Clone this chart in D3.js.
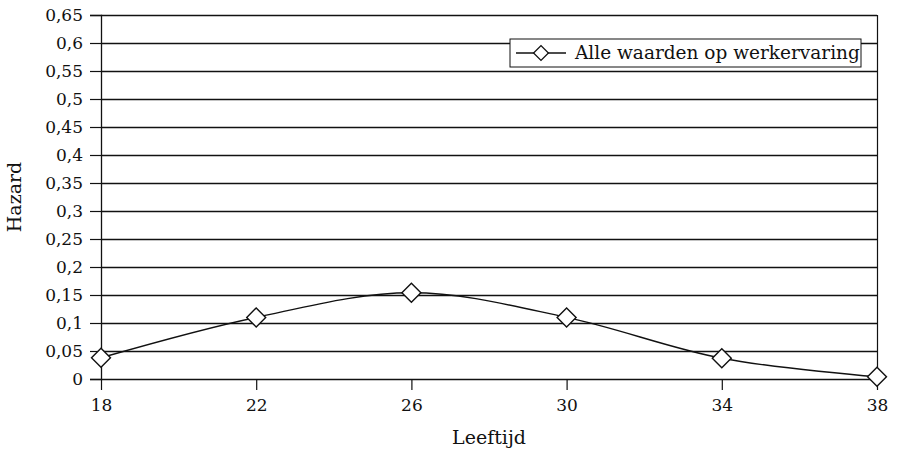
<!DOCTYPE html>
<html>
<head>
<meta charset="utf-8">
<script src="https://cdn.jsdelivr.net/npm/d3@7"></script>
<style>
  body { margin: 0; background: #fff; }
  text { font-family: "DejaVu Serif", serif; fill: #111; }
</style>
</head>
<body>
<div id="chart"></div>
<script>
// data
const ages = [18, 22, 26, 30, 34, 38];
const hazard = [0.038, 0.110, 0.154, 0.110, 0.037, 0.004];
const yTicks = [0, 0.05, 0.1, 0.15, 0.2, 0.25, 0.3, 0.35, 0.4, 0.45, 0.5, 0.55, 0.6, 0.65];
const seriesName = "Alle waarden op werkervaring";

const width = 898, height = 451;
const margin = {top: 15, right: 21, bottom: 72, left: 101};
const w = width - margin.left - margin.right;
const h = height - margin.top - margin.bottom;

const svg = d3.select("#chart").append("svg")
    .attr("width", width)
    .attr("height", height);

const g = svg.append("g")
    .attr("transform", "translate(" + margin.left + "," + margin.top + ")");

const x = d3.scaleLinear().domain([18, 38]).range([0, w]);
const y = d3.scaleLinear().domain([0, 0.65]).range([h, 0]);

const fmt = d => d3.format(".2~f")(d).replace(".", ",");

// horizontal gridlines
g.selectAll(".grid")
    .data(yTicks)
    .join("line")
    .attr("class", "grid")
    .attr("x1", 0)
    .attr("x2", w)
    .attr("y1", d => Math.round(y(d)) + 0.5)
    .attr("y2", d => Math.round(y(d)) + 0.5)
    .attr("stroke", "#111")
    .attr("stroke-width", 1.3);

// right border
g.append("line")
    .attr("x1", w + 0.5).attr("x2", w + 0.5)
    .attr("y1", 0).attr("y2", h)
    .attr("stroke", "#111")
    .attr("stroke-width", 1.2);

// y axis
const yAxis = g.append("g")
    .call(d3.axisLeft(y).tickValues(yTicks).tickFormat(fmt).tickSize(11).tickPadding(7));
yAxis.select(".domain").attr("stroke", "#111").attr("stroke-width", 1.3);
yAxis.selectAll("line").attr("stroke", "#111").attr("stroke-width", 1.2);
yAxis.selectAll("text").attr("font-size", 17).attr("font-family", "DejaVu Serif");

// x axis
const xAxis = g.append("g")
    .attr("transform", "translate(0," + h + ")")
    .call(d3.axisBottom(x).tickValues(ages).tickFormat(d3.format("d")).tickSize(11).tickPadding(9));
xAxis.select(".domain").remove();
xAxis.selectAll("line").attr("stroke", "#111").attr("stroke-width", 1.2);
xAxis.selectAll("text").attr("font-size", 17).attr("font-family", "DejaVu Serif");

// axis titles
g.append("text")
    .attr("x", w / 2)
    .attr("y", h + 65)
    .attr("text-anchor", "middle")
    .attr("font-size", 19)
    .text("Leeftijd");

g.append("text")
    .attr("transform", "rotate(-90)")
    .attr("x", -h / 2)
    .attr("y", -80)
    .attr("text-anchor", "middle")
    .attr("font-size", 19)
    .text("Hazard");

// smoothed line
const pts = ages.map((a, i) => [a, hazard[i]]);
g.append("path")
    .datum(pts)
    .attr("fill", "none")
    .attr("stroke", "#111")
    .attr("stroke-width", 1.4)
    .attr("d", d3.line()
        .x(d => x(d[0]))
        .y(d => y(d[1]))
        .curve(d3.curveCatmullRom.alpha(0)));

const diamond = d3.symbol().type(d3.symbolSquare).size(180);

g.selectAll(".pt")
    .data(pts)
    .join("path")
    .attr("class", "pt")
    .attr("d", diamond)
    .attr("transform", d => "translate(" + x(d[0]) + "," + y(d[1]) + ") rotate(45)")
    .attr("fill", "#fff")
    .attr("stroke", "#111")
    .attr("stroke-width", 1.4);

// legend
const lg = svg.append("g").attr("transform", "translate(510,39)");
lg.append("rect")
    .attr("width", 351)
    .attr("height", 28)
    .attr("fill", "#fff")
    .attr("stroke", "#111");
lg.append("line")
    .attr("x1", 6).attr("x2", 56)
    .attr("y1", 14).attr("y2", 14)
    .attr("stroke", "#111")
    .attr("stroke-width", 1.3);
lg.append("path")
    .attr("d", d3.symbol().type(d3.symbolSquare).size(110))
    .attr("transform", "translate(31,14) rotate(45)")
    .attr("fill", "#fff")
    .attr("stroke", "#111")
    .attr("stroke-width", 1.3);
lg.append("text")
    .attr("x", 65)
    .attr("y", 20)
    .attr("font-size", 18.5)
    .text(seriesName);
</script>
</body>
</html>
